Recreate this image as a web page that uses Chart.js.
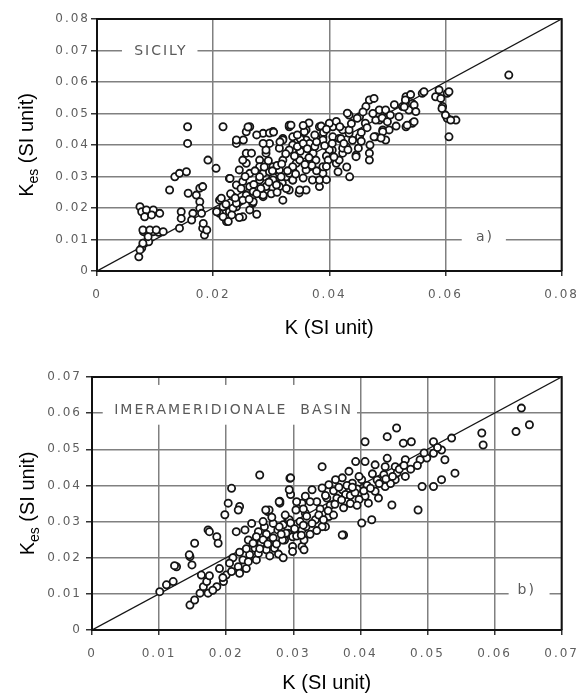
<!DOCTYPE html>
<html>
<head>
<meta charset="utf-8">
<script src="https://cdn.jsdelivr.net/npm/chart.js@4/dist/chart.umd.min.js"></script>
<style>
  body { margin: 0; background: #fff; }
  .panel { position: absolute; left: 0; width: 587px; height: 347px; }
</style>
</head>
<body>
<div class="panel" style="top:0"><canvas id="chart-a"></canvas></div>
<div class="panel" style="top:347px"><canvas id="chart-b"></canvas></div>
<script>
// [K, Kes] pairs
const sicilyPoints = [
  [0.0072,0.0045],[0.0077,0.0073],[0.0082,0.0089],[0.0089,0.0093],[0.0080,0.0125],[0.0089,0.0125],[0.0097,0.0125],[0.0106,0.0123],
  [0.0074,0.0204],[0.0077,0.0188],[0.0085,0.0194],[0.0097,0.0194],[0.0108,0.0183],[0.0082,0.0172],[0.0094,0.0178],
  [0.0079,0.0130],[0.0091,0.0130],[0.0102,0.0130],[0.0114,0.0125],[0.0088,0.0109],[0.0079,0.0088],[0.0074,0.0067],
  [0.0125,0.0257],[0.0134,0.0299],[0.0142,0.0310],[0.0154,0.0315],[0.0156,0.0405],[0.0156,0.0458],
  [0.0157,0.0247],[0.0171,0.0241],[0.0177,0.0263],[0.0182,0.0268],[0.0177,0.0220],[0.0177,0.0199],[0.0180,0.0183],[0.0165,0.0183],
  [0.0145,0.0188],[0.0145,0.0167],[0.0142,0.0136],[0.0163,0.0162],[0.0182,0.0136],[0.0185,0.0114],[0.0191,0.0352],[0.0205,0.0326],
  [0.0211,0.0225],[0.0217,0.0204],[0.0223,0.0157],[0.0211,0.0183],[0.0228,0.0188],[0.0234,0.0236],[0.0240,0.0204],[0.0245,0.0220],
  [0.0257,0.0241],[0.0263,0.0194],[0.0268,0.0215],[0.0251,0.0172],[0.0263,0.0268],[0.0280,0.0289],[0.0286,0.0310],[0.0303,0.0331],
  [0.0291,0.0257],[0.0314,0.0278],[0.0326,0.0299],[0.0331,0.0257],[0.0337,0.0384],[0.0320,0.0352],[0.0337,0.0321],
  [0.0228,0.0294],[0.0245,0.0321],[0.0257,0.0342],[0.0280,0.0352],[0.0291,0.0374],[0.0257,0.0374],[0.0240,0.0405],
  [0.0240,0.0416],[0.0257,0.0442],[0.0263,0.0458],[0.0286,0.0437],[0.0303,0.0442],[0.0320,0.0421],[0.0331,0.0458],[0.0337,0.0426],[0.0217,0.0458],
  [0.0331,0.0463],[0.0360,0.0448],[0.0360,0.0416],[0.0383,0.0458],[0.0389,0.0426],[0.0406,0.0458],[0.0406,0.0426],[0.0423,0.0448],
  [0.0434,0.0495],[0.0452,0.0490],[0.0434,0.0437],[0.0452,0.0426],[0.0469,0.0543],[0.0477,0.0548],[0.0463,0.0522],[0.0486,0.0511],
  [0.0486,0.0479],[0.0492,0.0448],[0.0480,0.0426],[0.0503,0.0448],[0.0532,0.0553],[0.0526,0.0522],[0.0537,0.0511],[0.0543,0.0532],
  [0.0532,0.0458],[0.0543,0.0469],[0.0560,0.0564],[0.0583,0.0553],[0.0589,0.0575],[0.0603,0.0564],[0.0595,0.0522],[0.0603,0.0485],
  [0.0618,0.0479],[0.0606,0.0426],[0.0709,0.0622],[0.0497,0.0416],
  [0.0348,0.0248],[0.0383,0.0268],[0.0319,0.0279],[0.0435,0.0299],[0.0469,0.0374],[0.0469,0.0352],[0.0446,0.0368],[0.0405,0.0384],
  [0.0429,0.0395],[0.0314,0.0321],[0.0331,0.0310],[0.0343,0.0342],[0.0366,0.0331],[0.0377,0.0352],[0.0389,0.0310],[0.0400,0.0374],
  [0.0412,0.0342],[0.0423,0.0374],[0.0371,0.0289],[0.0360,0.0257],[0.0337,0.0289],
  [0.0303,0.0442],[0.0334,0.0463],[0.0386,0.0460],[0.0400,0.0469],[0.0431,0.0501],[0.0448,0.0485],[0.0462,0.0469],[0.0434,0.0448],
  [0.0417,0.0421],[0.0389,0.0416],[0.0366,0.0405],[0.0337,0.0400],[0.0314,0.0390],[0.0291,0.0384],[0.0349,0.0352],[0.0372,0.0374],
  [0.0400,0.0384],[0.0423,0.0390],[0.0446,0.0363],[0.0417,0.0352],[0.0389,0.0331],[0.0360,0.0321],[0.0303,0.0299],[0.0383,0.0289],
  [0.0349,0.0257],[0.0314,0.0268],[0.0286,0.0236],[0.0480,0.0479],[0.0492,0.0442],[0.0412,0.0475],[0.0357,0.0442],[0.0320,0.0416],[0.0297,0.0405],
  [0.0531,0.0543],[0.0529,0.0521],[0.0546,0.0527],[0.0549,0.0506],[0.0534,0.0463],[0.0546,0.0474],[0.0563,0.0569],[0.0606,0.0569],
  [0.0592,0.0548],[0.0594,0.0516],[0.0600,0.0495],[0.0609,0.0479],[0.0497,0.0511],[0.0491,0.0486],[0.0500,0.0474],[0.0489,0.0422],[0.0477,0.0426],
  [0.0229,0.0294],[0.0240,0.0273],[0.0251,0.0284],[0.0263,0.0310],[0.0269,0.0252],[0.0280,0.0299],[0.0291,0.0268],[0.0303,0.0289],
  [0.0317,0.0299],[0.0326,0.0262],[0.0337,0.0289],[0.0251,0.0225],[0.0234,0.0199],[0.0217,0.0172],[0.0206,0.0188],[0.0214,0.0231],
  [0.0226,0.0157],[0.0240,0.0215],[0.0269,0.0220],[0.0286,0.0241],[0.0309,0.0273],[0.0297,0.0315],[0.0251,0.0352],[0.0266,0.0374],
  [0.0286,0.0405],[0.0280,0.0331],[0.0331,0.0384],[0.0337,0.0331],[0.0183,0.0151],[0.0189,0.0130],
  [0.0260,0.0457],[0.0275,0.0432],[0.0297,0.0438],[0.0304,0.0441],[0.0252,0.0416],
  [0.0350,0.0380],[0.0365,0.0360],[0.0395,0.0365],[0.0405,0.0405],[0.0420,0.0420],[0.0440,0.0415],[0.0455,0.0440],[0.0375,0.0395],
  [0.0340,0.0365],[0.0310,0.0335],[0.0295,0.0350],[0.0270,0.0275],[0.0300,0.0245],[0.0320,0.0225],[0.0275,0.0180],[0.0245,0.0170],
  [0.0230,0.0245],[0.0355,0.0295],[0.0395,0.0290],[0.0370,0.0335],[0.0415,0.0315],[0.0430,0.0330],[0.0450,0.0390],[0.0470,0.0400],
  [0.0505,0.0495],[0.0515,0.0460],[0.0390,0.0440],[0.0365,0.0470],[0.0350,0.0420],[0.0315,0.0410],
  [0.0255,0.0300],[0.0272,0.0318],[0.0288,0.0330],[0.0302,0.0318],[0.0318,0.0340],[0.0325,0.0372],[0.0345,0.0395],[0.0355,0.0405],
  [0.0362,0.0388],[0.0378,0.0410],[0.0392,0.0398],[0.0398,0.0352],[0.0408,0.0362],[0.0425,0.0405],[0.0432,0.0385],[0.0438,0.0468],
  [0.0418,0.0458],[0.0395,0.0450],[0.0375,0.0432],[0.0355,0.0462],[0.0345,0.0432],[0.0328,0.0318],[0.0342,0.0308],[0.0358,0.0338],
  [0.0378,0.0318],[0.0395,0.0332],[0.0282,0.0262],[0.0296,0.0282],[0.0310,0.0250],[0.0275,0.0245],[0.0262,0.0228],[0.0248,0.0262],
  [0.0238,0.0232],[0.0222,0.0212],[0.0232,0.0178],[0.0455,0.0412],[0.0465,0.0455],[0.0475,0.0500],[0.0458,0.0505],[0.0512,0.0528],
  [0.0520,0.0490],[0.0540,0.0560]
];

const basinPoints = [
  [0.0101,0.0106],[0.0111,0.0125],[0.0121,0.0134],[0.0126,0.0175],[0.0123,0.0178],[0.0146,0.0069],[0.0153,0.0083],[0.0161,0.0102],
  [0.0173,0.0102],[0.0166,0.0120],[0.0186,0.0120],[0.0196,0.0134],[0.0171,0.0134],[0.0163,0.0152],[0.0200,0.0152],[0.0208,0.0162],
  [0.0218,0.0175],[0.0230,0.0170],[0.0220,0.0157],[0.0146,0.0203],[0.0149,0.0180],[0.0153,0.0240],[0.0173,0.0277],[0.0186,0.0258],
  [0.0188,0.0240],[0.0208,0.0392],[0.0203,0.0351],[0.0220,0.0342],[0.0198,0.0319],[0.0218,0.0332],[0.0250,0.0429],[0.0262,0.0328],
  [0.0280,0.0351],[0.0295,0.0420],[0.0215,0.0272],
  [0.0228,0.0277],[0.0238,0.0295],[0.0248,0.0272],[0.0257,0.0286],[0.0233,0.0249],[0.0243,0.0226],[0.0252,0.0240],[0.0267,0.0249],
  [0.0277,0.0277],[0.0285,0.0291],[0.0292,0.0305],[0.0235,0.0208],[0.0225,0.0194],[0.0245,0.0194],[0.0260,0.0222],[0.0272,0.0226],
  [0.0287,0.0249],[0.0292,0.0268],[0.0233,0.0189],[0.0248,0.0212],
  [0.0454,0.0559],[0.0440,0.0535],[0.0464,0.0517],[0.0476,0.0521],[0.0407,0.0521],[0.0509,0.0521],[0.0521,0.0498],[0.0509,0.0489],
  [0.0526,0.0471],[0.0499,0.0476],[0.0489,0.0471],[0.0536,0.0531],[0.0541,0.0434],[0.0521,0.0416],[0.0509,0.0397],[0.0492,0.0397],[0.0486,0.0332],
  [0.0467,0.0471],[0.0452,0.0452],[0.0437,0.0452],[0.0422,0.0457],[0.0407,0.0466],[0.0393,0.0466],[0.0383,0.0439],[0.0373,0.0421],
  [0.0363,0.0416],[0.0353,0.0402],[0.0343,0.0393],[0.0328,0.0388],[0.0318,0.0370],[0.0313,0.0351],[0.0467,0.0425],[0.0452,0.0416],
  [0.0437,0.0397],[0.0422,0.0384],[0.0407,0.0370],[0.0398,0.0361],[0.0343,0.0452],[0.0296,0.0421],[0.0296,0.0375],[0.0280,0.0356],
  [0.0264,0.0332],[0.0447,0.0346],[0.0427,0.0365],[0.0412,0.0351],[0.0402,0.0296],[0.0417,0.0305],[0.0375,0.0263],
  [0.0348,0.0286],[0.0333,0.0305],[0.0318,0.0323],[0.0304,0.0332],[0.0294,0.0305],[0.0279,0.0286],[0.0313,0.0277],[0.0299,0.0258],
  [0.0284,0.0249],[0.0313,0.0231],[0.0299,0.0231],[0.0373,0.0388],[0.0388,0.0406],[0.0402,0.0416],
  [0.0640,0.0614],[0.0652,0.0568],[0.0632,0.0549],[0.0581,0.0545],[0.0583,0.0512],
  [0.0294,0.0388],[0.0279,0.0355],[0.0259,0.0332],[0.0175,0.0272],[0.0145,0.0208],
  [0.0299,0.0217],[0.0316,0.0222],[0.0316,0.0249],[0.0289,0.0268],[0.0296,0.0296],[0.0319,0.0286],[0.0343,0.0286],[0.0353,0.0314],[0.0373,0.0263],
  [0.0260,0.0265],[0.0270,0.0295],[0.0255,0.0300],[0.0245,0.0258],[0.0265,0.0205],[0.0278,0.0210],[0.0285,0.0200],[0.0305,0.0260],
  [0.0325,0.0265],[0.0335,0.0275],[0.0320,0.0315],[0.0340,0.0335],[0.0355,0.0345],[0.0365,0.0365],[0.0378,0.0375],[0.0385,0.0350],
  [0.0360,0.0385],[0.0350,0.0365],[0.0395,0.0390],[0.0410,0.0400],[0.0425,0.0415],[0.0435,0.0430],[0.0445,0.0405],[0.0455,0.0435],
  [0.0475,0.0445],[0.0440,0.0475],[0.0380,0.0400],[0.0335,0.0355],[0.0305,0.0355],[0.0310,0.0300],[0.0230,0.0225],[0.0220,0.0215],
  [0.0210,0.0200],[0.0195,0.0145],[0.0180,0.0110],[0.0175,0.0150],[0.0190,0.0170],[0.0205,0.0185],
  [0.0270,0.0255],[0.0282,0.0265],[0.0302,0.0280],[0.0315,0.0290],[0.0328,0.0295],[0.0338,0.0318],[0.0352,0.0330],[0.0362,0.0348],
  [0.0372,0.0360],[0.0385,0.0372],[0.0392,0.0380],[0.0405,0.0385],[0.0415,0.0392],[0.0428,0.0405],[0.0438,0.0418],[0.0448,0.0425],
  [0.0458,0.0445],[0.0465,0.0455],[0.0418,0.0432],[0.0398,0.0425],[0.0388,0.0395],[0.0368,0.0395],[0.0348,0.0372],[0.0325,0.0355],
  [0.0315,0.0335],[0.0288,0.0318],[0.0268,0.0312],[0.0255,0.0250],[0.0262,0.0238],[0.0240,0.0240],[0.0250,0.0225],[0.0275,0.0238],
  [0.0312,0.0262],[0.0345,0.0305],[0.0360,0.0318],[0.0375,0.0338],[0.0395,0.0345],[0.0485,0.0455],[0.0495,0.0490],[0.0515,0.0505]
];

const sicilyXTicks = [0, 0.02, 0.04, 0.06, 0.08];
const sicilyYTicks = [0, 0.01, 0.02, 0.03, 0.04, 0.05, 0.06, 0.07, 0.08];
const basinXTicks = [0, 0.01, 0.02, 0.03, 0.04, 0.05, 0.06, 0.07];
const basinYTicks = [0, 0.01, 0.02, 0.03, 0.04, 0.05, 0.06, 0.07];

const sicilyNotes = [
  { text: 'SICILY', x: 0.011, y: 0.0697, box: [0.0043, 0.0173, 0.0665, 0.0728] },
  { text: 'a)', x: 0.0668, y: 0.0108, box: [0.0628, 0.0704, 0.0075, 0.0135] }
];
const basinNotes = [
  { text: 'IMERAMERIDIONALE  BASIN', x: 0.0211, y: 0.0609, box: [0.0016, 0.0395, 0.0568, 0.0678] },
  { text: 'b)', x: 0.0648, y: 0.0109, box: [0.0621, 0.0682, 0.0075, 0.0135] }
];

const fmt = (v) => (v === 0 ? '0' : v.toFixed(2));

function decor(notes, geo) {
  return {
    id: 'decor',
    beforeDraw(chart) {
      chart.ctx.letterSpacing = '2px';
    },
    beforeDatasetsDraw(chart) {
      const { ctx, chartArea: a, scales: { x, y } } = chart;
      ctx.save();
      notes.forEach((n) => {
        const x0 = x.getPixelForValue(n.box[0]), x1 = x.getPixelForValue(n.box[1]);
        const y0 = y.getPixelForValue(n.box[3]), y1 = y.getPixelForValue(n.box[2]);
        ctx.fillStyle = '#fff';
        ctx.fillRect(x0, y0, x1 - x0, y1 - y0);
        ctx.font = '14px "DejaVu Sans"';
        ctx.letterSpacing = '2px';
        ctx.fillStyle = '#5a5a5a';
        ctx.textAlign = 'center';
        ctx.textBaseline = 'middle';
        ctx.fillText(n.text, x.getPixelForValue(n.x), y.getPixelForValue(n.y));
      });
      // top and right edges of the frame
      ctx.strokeStyle = '#111';
      ctx.lineWidth = 2;
      ctx.beginPath();
      ctx.moveTo(a.left, a.top);
      ctx.lineTo(a.right, a.top);
      ctx.lineTo(a.right, a.bottom);
      ctx.stroke();
      ctx.restore();
    },
    afterDraw(chart) {
      const { ctx, chartArea: a } = chart;
      const big = '20px "Liberation Sans"', small = '14px "Liberation Sans"';
      ctx.save();
      ctx.letterSpacing = '0px';
      ctx.fillStyle = '#000';
      ctx.font = big;
      ctx.textAlign = 'center';
      ctx.textBaseline = 'alphabetic';
      ctx.fillText('K (SI unit)', (a.left + a.right) / 2, geo.xTitleY);

      ctx.translate(geo.yTitleX, (a.top + a.bottom) / 2);
      ctx.rotate(-Math.PI / 2);
      const wK = ctx.measureText('K').width;
      const wRest = ctx.measureText(' (SI unit)').width;
      ctx.font = small;
      const wEs = ctx.measureText('es').width;
      let sx = -(wK + wEs + wRest) / 2;
      ctx.textAlign = 'left';
      ctx.font = big;
      ctx.fillText('K', sx, 0);
      sx += wK;
      ctx.font = small;
      ctx.fillText('es', sx, 5);
      sx += wEs;
      ctx.font = big;
      ctx.fillText(' (SI unit)', sx, 0);
      ctx.restore();
    }
  };
}

function axis(ticks, geo, isX) {
  return {
    type: 'linear',
    min: 0,
    max: ticks[ticks.length - 1],
    afterBuildTicks: (s) => { s.ticks = ticks.map((v) => ({ value: v })); },
    afterFit: (s) => {
      if (isX) s.height = geo.xHeight;
      else s.width = geo.yWidth;
    },
    grid: { color: '#808080', lineWidth: 1.5, tickColor: '#333', tickLength: isX ? 5 : 6 },
    border: { color: '#111', width: 2 },
    ticks: {
      color: '#5e5e5e',
      font: { family: 'DejaVu Sans', size: 12 },
      padding: isX ? 12 : geo.yPad,
      maxRotation: 0,
      autoSkip: false,
      callback: (v) => fmt(v)
    }
  };
}

function makeChart(id, points, xTicks, yTicks, notes, geo) {
  const lim = xTicks[xTicks.length - 1];
  return new Chart(document.getElementById(id), {
    type: 'scatter',
    data: {
      datasets: [
        {
          data: points.map(([k, kes]) => ({ x: k, y: kes })),
          pointRadius: 3.6,
          pointHoverRadius: 3.6,
          pointBorderWidth: 1.8,
          pointBorderColor: '#151515',
          pointBackgroundColor: '#fff'
        },
        {
          data: [{ x: 0, y: 0 }, { x: lim, y: lim }],
          showLine: true,
          borderColor: '#151515',
          borderWidth: 1.3,
          pointRadius: 0
        }
      ]
    },
    options: {
      responsive: true,
      maintainAspectRatio: false,
      animation: false,
      layout: { padding: { top: geo.top, right: geo.right, left: 0, bottom: 0 } },
      plugins: { legend: { display: false }, tooltip: { enabled: false } },
      scales: {
        x: axis(xTicks, geo, true),
        y: axis(yTicks, geo, false)
      }
    },
    plugins: [decor(notes, geo)]
  });
}

makeChart('chart-a', sicilyPoints, sicilyXTicks, sicilyYTicks, sicilyNotes,
  { top: 19, right: 23, xHeight: 76, yWidth: 97, yPad: 1, xTitleY: 334, yTitleX: 33 });
makeChart('chart-b', basinPoints, basinXTicks, basinYTicks, basinNotes,
  { top: 30, right: 23, xHeight: 64, yWidth: 92, yPad: 4, xTitleY: 342, yTitleX: 34 });
</script>
</body>
</html>
